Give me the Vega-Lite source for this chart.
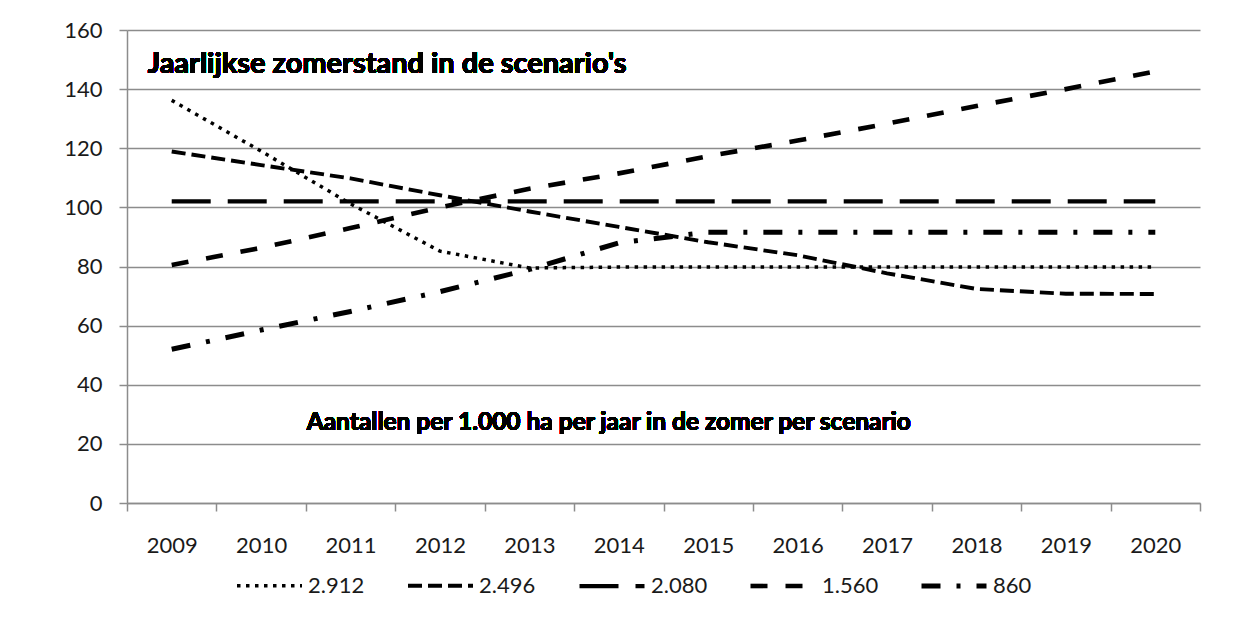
{
  "$schema": "https://vega.github.io/schema/vega-lite/v6.json",
  "width": 1073,
  "height": 473,
  "autosize": {"type": "none"},
  "padding": {"left": 127, "top": 30, "right": 35, "bottom": 116},
  "background": "white",
  "config": {
    "view": {"stroke": null},
    "font": "Lato",
    "axis": {"labelFont": "Lato", "labelColor": "#1a1a1a", "domainColor": "#8c8c8c", "tickColor": "#8c8c8c", "gridColor": "#8c8c8c"}
  },
  "data": {
    "values": [
      {"year": "2009", "scenario": "2.912", "value": 136.2},
      {"year": "2010", "scenario": "2.912", "value": 119.0},
      {"year": "2011", "scenario": "2.912", "value": 101.2},
      {"year": "2012", "scenario": "2.912", "value": 85.2},
      {"year": "2013", "scenario": "2.912", "value": 79.5},
      {"year": "2014", "scenario": "2.912", "value": 79.8},
      {"year": "2015", "scenario": "2.912", "value": 79.8},
      {"year": "2016", "scenario": "2.912", "value": 79.8},
      {"year": "2017", "scenario": "2.912", "value": 79.8},
      {"year": "2018", "scenario": "2.912", "value": 79.8},
      {"year": "2019", "scenario": "2.912", "value": 79.8},
      {"year": "2020", "scenario": "2.912", "value": 79.8},
      {"year": "2009", "scenario": "2.496", "value": 118.9},
      {"year": "2010", "scenario": "2.496", "value": 114.3},
      {"year": "2011", "scenario": "2.496", "value": 109.8},
      {"year": "2012", "scenario": "2.496", "value": 104.1},
      {"year": "2013", "scenario": "2.496", "value": 98.6},
      {"year": "2014", "scenario": "2.496", "value": 93.4},
      {"year": "2015", "scenario": "2.496", "value": 88.2},
      {"year": "2016", "scenario": "2.496", "value": 83.8},
      {"year": "2017", "scenario": "2.496", "value": 77.7},
      {"year": "2018", "scenario": "2.496", "value": 72.4},
      {"year": "2019", "scenario": "2.496", "value": 70.8},
      {"year": "2020", "scenario": "2.496", "value": 70.7},
      {"year": "2009", "scenario": "2.080", "value": 102},
      {"year": "2010", "scenario": "2.080", "value": 102},
      {"year": "2011", "scenario": "2.080", "value": 102},
      {"year": "2012", "scenario": "2.080", "value": 102},
      {"year": "2013", "scenario": "2.080", "value": 102},
      {"year": "2014", "scenario": "2.080", "value": 102},
      {"year": "2015", "scenario": "2.080", "value": 102},
      {"year": "2016", "scenario": "2.080", "value": 102},
      {"year": "2017", "scenario": "2.080", "value": 102},
      {"year": "2018", "scenario": "2.080", "value": 102},
      {"year": "2019", "scenario": "2.080", "value": 102},
      {"year": "2020", "scenario": "2.080", "value": 102},
      {"year": "2009", "scenario": "1.560", "value": 80.5},
      {"year": "2010", "scenario": "1.560", "value": 86.3},
      {"year": "2011", "scenario": "1.560", "value": 93.0},
      {"year": "2012", "scenario": "1.560", "value": 100.0},
      {"year": "2013", "scenario": "1.560", "value": 106.3},
      {"year": "2014", "scenario": "1.560", "value": 111.5},
      {"year": "2015", "scenario": "1.560", "value": 117.3},
      {"year": "2016", "scenario": "1.560", "value": 122.6},
      {"year": "2017", "scenario": "1.560", "value": 128.3},
      {"year": "2018", "scenario": "1.560", "value": 134.3},
      {"year": "2019", "scenario": "1.560", "value": 140.0},
      {"year": "2020", "scenario": "1.560", "value": 146.0},
      {"year": "2009", "scenario": "860", "value": 52.0},
      {"year": "2010", "scenario": "860", "value": 58.5},
      {"year": "2011", "scenario": "860", "value": 64.8},
      {"year": "2012", "scenario": "860", "value": 71.5},
      {"year": "2013", "scenario": "860", "value": 79.0},
      {"year": "2014", "scenario": "860", "value": 88.0},
      {"year": "2015", "scenario": "860", "value": 91.6},
      {"year": "2016", "scenario": "860", "value": 91.6},
      {"year": "2017", "scenario": "860", "value": 91.6},
      {"year": "2018", "scenario": "860", "value": 91.6},
      {"year": "2019", "scenario": "860", "value": 91.6},
      {"year": "2020", "scenario": "860", "value": 91.6}
    ]
  },
  "layer": [
    {
      "mark": {"type": "line", "color": "black", "strokeCap": "butt", "strokeJoin": "round", "clip": false},
      "encoding": {
        "x": {
          "field": "year", "type": "ordinal", "bandPosition": 0.5,
          "scale": {"type": "band", "paddingInner": 0, "paddingOuter": 0},
          "axis": {"title": null, "labelAngle": 0, "labelFontSize": 22, "tickBand": "extent", "tickSize": 8, "labelPadding": 24, "domainWidth": 1.5, "tickWidth": 1.5, "grid": false}
        },
        "y": {
          "field": "value", "type": "quantitative",
          "scale": {"domain": [0, 160], "nice": false, "zero": true},
          "axis": {"title": null, "values": [0, 20, 40, 60, 80, 100, 120, 140, 160], "labelFontSize": 22, "tickSize": 8, "labelPadding": 17, "grid": true, "gridWidth": 1.3, "domainWidth": 1.5, "tickWidth": 1.5}
        },
        "detail": {"field": "scenario"},
        "strokeDash": {
          "field": "scenario", "type": "nominal",
          "scale": {"domain": ["2.912", "2.496", "2.080", "1.560", "860"], "range": [[3.5, 5.5], [14, 6], [39, 17], [17, 18], [19, 16, 4, 16]]},
          "legend": {
            "title": null, "orient": "none", "legendX": 108, "legendY": 521, "direction": "horizontal",
            "symbolType": "stroke", "symbolSize": 4225, "symbolStrokeColor": "black",
            "labelFontSize": 22, "labelFont": "Lato", "labelColor": "#1a1a1a", "labelOffset": 4,
            "columnPadding": 32, "gridAlign": "all"
          }
        },
        "strokeWidth": {
          "field": "scenario", "type": "nominal",
          "scale": {"domain": ["2.912", "2.496", "2.080", "1.560", "860"], "range": [3.5, 5, 5.5, 4.5, 4.5]},
          "legend": {
            "title": null, "orient": "none", "legendX": 108, "legendY": 521, "direction": "horizontal",
            "symbolType": "stroke", "symbolSize": 4225, "symbolStrokeColor": "black",
            "labelFontSize": 22, "labelFont": "Lato", "labelColor": "#1a1a1a", "labelOffset": 4,
            "columnPadding": 32, "gridAlign": "all"
          }
        }
      }
    },
    {
      "mark": {"type": "text", "text": "Jaarlijkse zomerstand in de scenario's", "align": "left", "baseline": "alphabetic", "fontSize": 29, "fontWeight": "bold", "font": "Lato", "color": "black", "dx": -24},
      "encoding": {
        "x": {"datum": "2009", "type": "ordinal", "bandPosition": 0.5},
        "y": {"datum": 145.5, "type": "quantitative"}
      }
    },
    {
      "mark": {"type": "text", "text": "Aantallen per 1.000 ha per jaar in de zomer per scenario", "align": "center", "baseline": "alphabetic", "fontSize": 24.5, "fontWeight": "bold", "font": "Lato", "color": "black", "dx": -10},
      "encoding": {
        "x": {"datum": "2014", "type": "ordinal", "bandPosition": 0.5},
        "y": {"datum": 24.8, "type": "quantitative"}
      }
    }
  ]
}
